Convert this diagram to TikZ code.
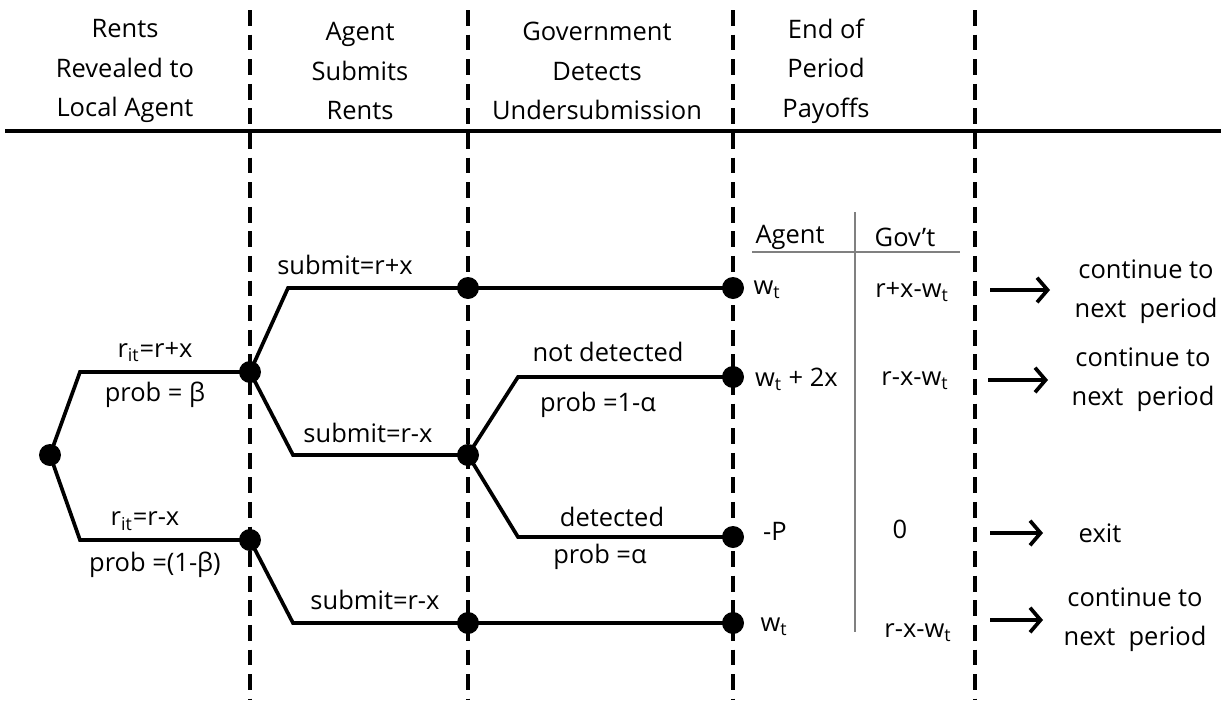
\documentclass[tikz,border=0pt]{standalone}
\usepackage{fontspec}
\setmainfont{Open Sans}
\usetikzlibrary{positioning, arrows.meta}

\tikzset{
  branch/.style={line width=2.1pt},
  dot/.style={circle, fill=black, inner sep=0pt, minimum size=0.44cm},
  divider/.style={line width=2.3pt, dash pattern=on 9pt off 5pt},
  lbl/.style={font=\fontsize{14.5}{17}\selectfont, inner sep=1pt},
  head/.style={align=center, font=\fontsize{14.5}{22.5}\selectfont},
  tabline/.style={gray, line width=0.8pt},
  go/.style={line width=2.1pt, -{Straight Barb[length=6pt,width=14pt,line width=2.1pt]}},
}

\begin{document}
\begin{tikzpicture}[x=0.02cm, y=-0.02cm]
   \useasboundingbox (0,0) rectangle (1221,707);

   % stage headings
   \node[head] (h1) at (125,71) {Rents\\Revealed to\\Local Agent};
   \node[head] (h2) at (360,71) {Agent\\Submits\\Rents};
   \node[head] (h3) at (597,71) {Government\\Detects\\Undersubmission};
   \node[head] (h4) at (826,71) {End of\\Period\\Payoffs};
   \draw[line width=2.2pt] (5,131) -- (1221,131);

   % stage dividers
   \foreach \x in {250,468,733,975}
     \draw[divider] (\x,10) -- (\x,700);

   % decision nodes
   \node[dot] (root) at (50,455) {};
   \node[dot] (up) at (250,372) {};
   \node[dot] (lo) at (250,540) {};
   \node[dot] (a1) at (468,288) {};
   \node[dot] (a2) at (733,288) {};
   \node[dot] (b1) at (468,455) {};
   \node[dot] (b2) at (733,377) {};
   \node[dot] (b3) at (733,537) {};
   \node[dot] (c1) at (468,623) {};
   \node[dot] (c2) at (733,623) {};

   % kinks of the branches
   \coordinate (k1) at (80,372);
   \coordinate (k2) at (80,540);
   \coordinate (k3) at (288,288);
   \coordinate (k4) at (293,455);
   \coordinate (k5) at (518,377);
   \coordinate (k6) at (518,537);
   \coordinate (k7) at (293,623);

   \draw[branch] (root.center) -- (k1) -- (up.center);
   \draw[branch] (root.center) -- (k2) -- (lo.center);
   \draw[branch] (up.center) -- (k3) -- (a1.center) -- (a2.center);
   \draw[branch] (up.center) -- (k4) -- (b1.center);
   \draw[branch] (b1.center) -- (k5) -- (b2.center);
   \draw[branch] (b1.center) -- (k6) -- (b3.center);
   \draw[branch] (lo.center) -- (k7) -- (c1.center) -- (c2.center);

   % branch labels
   \node[lbl] (l1) at (155,352) {r\textsubscript{it}=r+x};
   \node[lbl] (l2) at (155,395) {prob = β};
   \node[lbl] (l3) at (145,521) {r\textsubscript{it}=r-x};
   \node[lbl] (l4) at (155,565) {prob =(1-β)};
   \node[lbl] (l5) at (345,265) {submit=r+x};
   \node[lbl] (l6) at (368,433) {submit=r-x};
   \node[lbl] (l7) at (375,600) {submit=r-x};
   \node[lbl] (l8) at (608,352) {not detected};
   \node[lbl] (l9) at (598,405) {prob =1-α};
   \node[lbl] (l10) at (612,517) {detected};
   \node[lbl] (l11) at (600,557) {prob =α};

   % payoff table
   \draw[tabline] (752,252) -- (960,252);
   \draw[tabline] (855,212) -- (855,632);
   \node[lbl] (agent) at (790,237) {Agent};
   \node[lbl] (govt) at (905,237) {Gov't};
   \node[lbl] (p1a) at (767,290) {w\textsubscript{t}};
   \node[lbl] (p1g) at (912,292) {r+x-w\textsubscript{t}};
   \node[lbl, anchor=west] (p2a) at (753,379) {w\textsubscript{t} + 2x};
   \node[lbl] (p2g) at (915,381) {r-x-w\textsubscript{t}};
   \node[lbl] (p3a) at (775,531) {-P};
   \node[lbl] (p3g) at (900,529) {0};
   \node[lbl] (p4a) at (774,627) {w\textsubscript{t}};
   \node[lbl] (p4g) at (918,633) {r-x-w\textsubscript{t}};

   % what happens next
   \node[lbl, align=center] (o1) at (1146,292) {continue to\\[5pt]next\ \ period};
   \node[lbl, align=center] (o2) at (1143,380) {continue to\\[5pt]next\ \ period};
   \node[lbl] (o3) at (1100,533) {exit};
   \node[lbl, align=center] (o4) at (1135,620) {continue to\\[5pt]next\ \ period};
   \coordinate (s1) at (990,290);
   \coordinate (s2) at (988,380);
   \coordinate (s3) at (990,533);
   \coordinate (s4) at (990,620);
   \draw[go] (s1) -- (1050,290);
   \draw[go] (s2) -- (1048,380);
   \draw[go] (s3) -- (1043,533);
   \draw[go] (s4) -- (1043,620);
\end{tikzpicture}
\end{document}
